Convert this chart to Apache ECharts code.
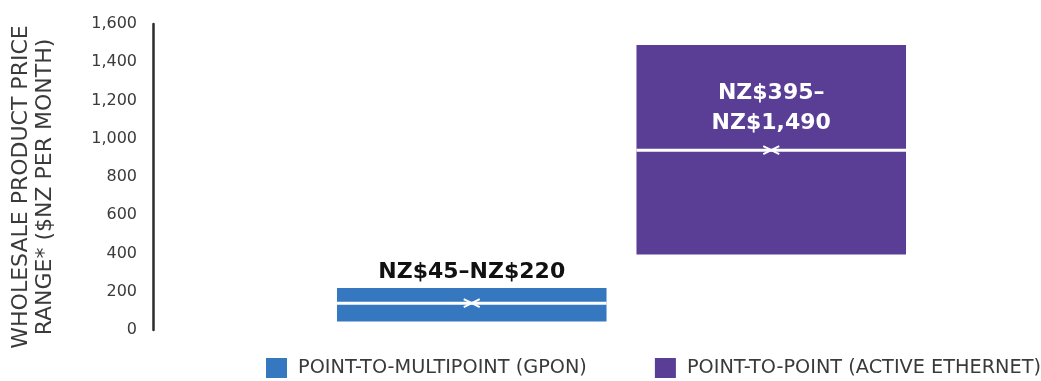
<!DOCTYPE html>
<html>
<head>
<meta charset="utf-8">
<script src="https://cdn.jsdelivr.net/npm/echarts@6/dist/echarts.min.js"></script>
<style>html,body{margin:0;padding:0;background:#fff}#c{width:1041px;height:381px}</style>
</head>
<body>
<div id="c"></div>
<script>
const categories = ['POINT-TO-MULTIPOINT (GPON)', 'POINT-TO-POINT (ACTIVE ETHERNET)'];
const lowValues = [45, 395];
const highValues = [220, 1490];
const markValues = [140, 940];
const rangeLabels = ['NZ$45\u2013NZ$220', 'NZ$395\u2013\nNZ$1,490'];
const colors = ['#3678BF', '#5A3E96'];
const yMin = 0, yMax = 1600, yStep = 200;
const axisTitle = 'WHOLESALE PRODUCT PRICE\nRANGE* ($NZ PER MONTH)';

const FONT = 'DejaVu Sans';

function renderItem(params, api) {
  const idx = api.value(0);
  const lo = api.value(1), hi = api.value(2), mk = api.value(3);
  const pLo = api.coord([idx, lo]);
  const pHi = api.coord([idx, hi]);
  const pMk = api.coord([idx, mk]);
  const bw = api.size([1, 0])[0] * 0.9;
  const cx = pLo[0];
  const x0 = cx - bw / 2;
  const h = pLo[1] - pHi[1];
  const inside = h > 100;
  const children = [
    { type: 'rect', shape: { x: x0, y: pHi[1], width: bw, height: h }, style: { fill: colors[params.seriesIndex] } },
    { type: 'rect', shape: { x: x0, y: pMk[1] - 1.5, width: bw, height: 3 }, style: { fill: '#fff' } },
    { type: 'line', shape: { x1: cx - 8, y1: pMk[1] - 4, x2: cx + 8, y2: pMk[1] + 4 }, style: { stroke: '#fff', lineWidth: 2 } },
    { type: 'line', shape: { x1: cx - 8, y1: pMk[1] + 4, x2: cx + 8, y2: pMk[1] - 4 }, style: { stroke: '#fff', lineWidth: 2 } },
    {
      type: 'text',
      x: cx,
      y: inside ? pHi[1] + 63 : pHi[1] - 16,
      style: {
        text: rangeLabels[idx],
        fill: inside ? '#fff' : '#111',
        font: 'bold 22px "' + FONT + '"',
        align: 'center',
        verticalAlign: 'middle',
        lineHeight: 30
      }
    }
  ];
  return { type: 'group', children: children };
}

const chart = echarts.init(document.getElementById('c'));
chart.setOption({
  animation: false,
  color: colors,
  grid: { left: 322, right: 120, top: 24, bottom: 51, containLabel: false, outerBoundsMode: 'none' },
  legend: {
    left: 266, top: 358, padding: 0, width: 800,
    itemWidth: 21, itemHeight: 20, itemGap: 68,
    icon: 'rect',
    textStyle: { fontFamily: FONT, fontSize: 19.3, color: '#3a3a3a', padding: [9, 0, 0, 6] },
    data: categories
  },
  xAxis: {
    type: 'category',
    data: categories,
    show: false
  },
  yAxis: {
    type: 'value',
    min: yMin, max: yMax, interval: yStep,
    offset: 169,
    name: axisTitle,
    nameLocation: 'middle',
    nameRotate: 90,
    nameGap: 96,
    nameTextStyle: { fontFamily: FONT, fontSize: 22, color: '#3a3a3a', lineHeight: 24, padding: [0, 20, 0, 0] },
    axisLine: { show: true, lineStyle: { color: '#2b2b2b', width: 2.5 } },
    axisTick: { show: false },
    splitLine: { show: false },
    axisLabel: {
      margin: 16,
      fontFamily: FONT, fontSize: 16, color: '#3a3a3a',
      formatter: v => v.toLocaleString('en-US')
    }
  },
  series: categories.map((name, i) => ({
    name: name,
    type: 'custom',
    renderItem: renderItem,
    encode: { x: 0, y: [1, 2] },
    data: [[i, lowValues[i], highValues[i], markValues[i]]]
  }))
});
</script>
</body>
</html>
